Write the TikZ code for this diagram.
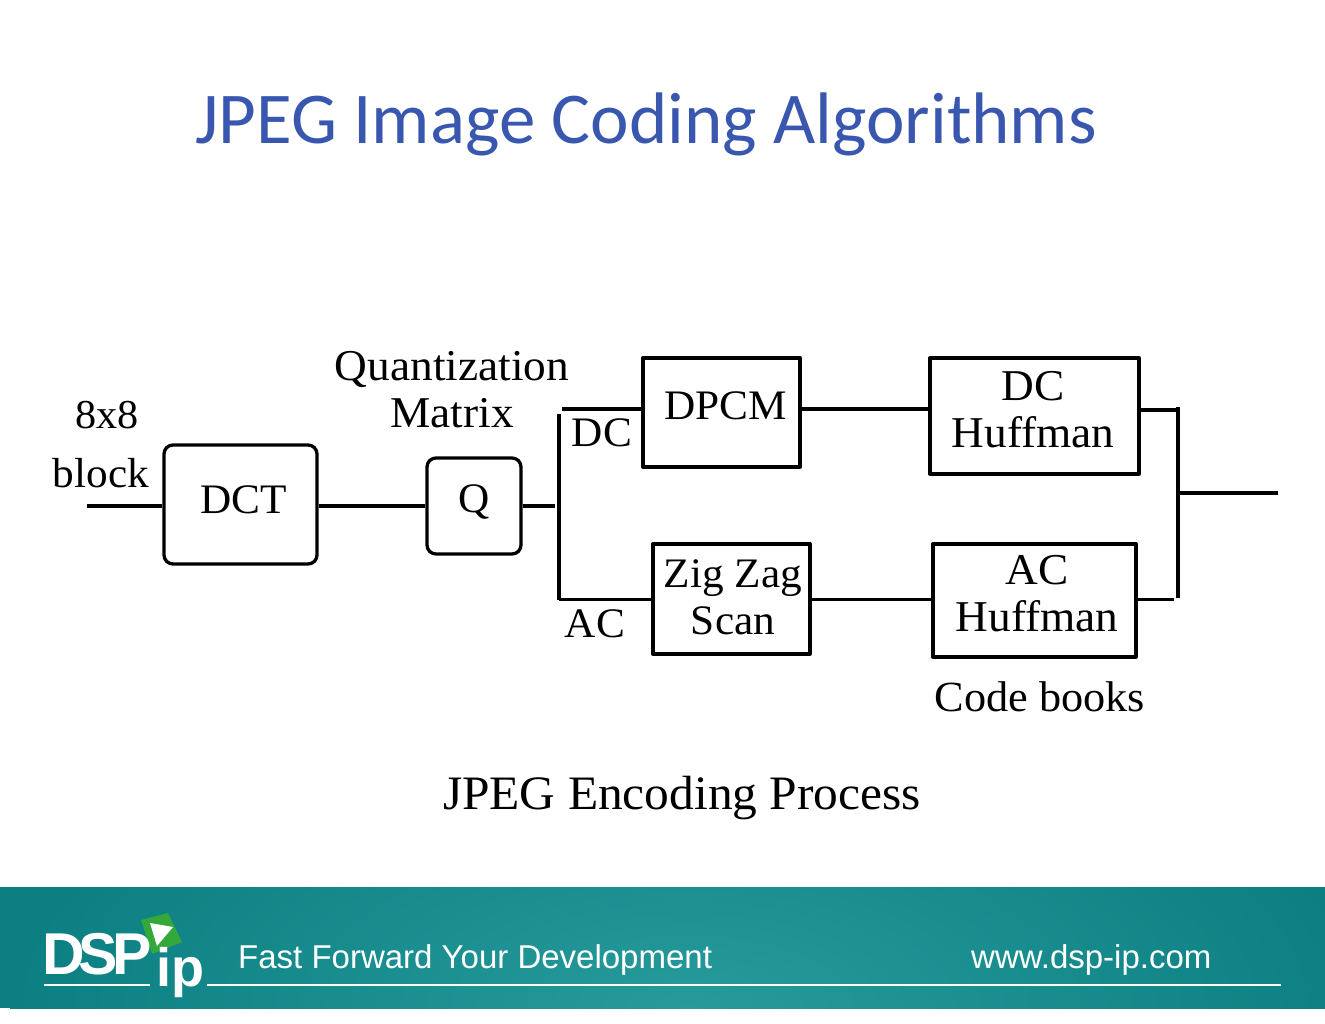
\documentclass[tikz,border=0pt]{standalone}
\usepackage{fontspec}
\setmainfont[FakeStretch=1.03]{Liberation Serif}
\newfontfamily\titlefont{Carlito}
\newfontfamily\footfont{Liberation Sans}
\definecolor{titleblue}{HTML}{3A57B0}
\definecolor{bandedge}{HTML}{0B7F81}
\definecolor{bandmid}{HTML}{279B9C}
\definecolor{logogreen}{HTML}{35A83C}
\tikzset{
	wire/.style={line width=3.3pt, line cap=butt},
	blockbox/.style={draw, line width=3.3pt, minimum width=#1, inner sep=0pt},
	blockbox/.default=100pt,
	blocktext/.style={font=\fontsize{44}{47}\selectfont, align=center, inner sep=0pt},
	capstext/.style={blocktext, font=\fontsize{42}{47}\selectfont},
	foottext/.style={font=\footfont\fontsize{33}{40}\selectfont, text=white, inner sep=0pt}
}
\begin{document}
\begin{tikzpicture}[x=1pt, y=-1pt, line join=round]
	\useasboundingbox (0,0) rectangle (1325,1024);
	\node[font=\titlefont\fontsize{73}{80}\selectfont, text=titleblue, inner sep=0pt] (title) at (646,124) {JPEG Image Coding Algorithms};
	% blocks
	\node[blockbox=153pt, minimum height=119pt, rounded corners=9pt] (dct) at (240.5,504.5) {};
	\node[blockbox=94pt, minimum height=96pt, rounded corners=9pt] (q) at (474,506) {};
	\node[blockbox=157pt, minimum height=109pt] (dpcm) at (721.5,412.5) {};
	\node[blockbox=209pt, minimum height=116pt] (dchuff) at (1034.5,416) {};
	\node[blockbox=157pt, minimum height=110pt] (zigzag) at (731.5,599) {};
	\node[blockbox=203pt, minimum height=113pt] (achuff) at (1034.5,600.5) {};
	\node[capstext] (dctlabel) at (244,500) {DCT};
	\node[capstext] (qlabel) at (474,502) {Q};
	\node[capstext] (dpcmlabel) at (726,406) {DPCM};
	\node[blocktext] (dchufflabel) at (1033,410) {DC\\Huffman};
	\node[capstext] (zigzaglabel) at (733,597) {Zig Zag\\Scan};
	\node[blocktext] (achufflabel) at (1037,594) {AC\\Huffman};
	% free labels
	\node[blocktext, font=\fontsize{41}{47}\selectfont] (inlabel) at (107,415) {8x8};
	\node[capstext] (blocklabel) at (101,473) {block};
	\node[blocktext] (qmlabel) at (452,390) {Quantization\\Matrix};
	\node[capstext] (dclabel) at (602,433) {DC};
	\node[capstext] (aclabel) at (595,624) {AC};
	\node[blocktext, font=\fontsize{43}{47}\selectfont] (cblabel) at (1040,697) {Code books};
	\node[blocktext, font=\fontsize{48}{50}\selectfont] (caption) at (682,798) {JPEG Encoding Process};
	% wires
	\coordinate (input) at (87,506);
	\coordinate (split) at (555,506);
	\coordinate (splittop) at (559,414);
	\coordinate (splitbot) at (559,599.5);
	\coordinate (dcstart) at (562,409);
	\coordinate (mergetop) at (1178,407);
	\coordinate (mergebot) at (1178,598);
	\coordinate (mergeout) at (1178,493);
	\coordinate (output) at (1278,493);
	\draw[wire] (input) -- (input -| dct.west);
	\draw[wire] (dct.east |- input) -- (q.west |- input);
	\draw[wire] (q.east |- input) -- (split);
	\draw[wire] (splittop) -- (splitbot);
	\draw[wire] (dcstart) -- (dcstart -| dpcm.west);
	\draw[wire] (splitbot) -- (splitbot -| zigzag.west);
	\draw[wire] (dpcm.east |- dcstart) -- (dchuff.west |- dcstart);
	\draw[wire] (zigzag.east |- splitbot) -- (achuff.west |- splitbot);
	\draw[wire] (dchuff.east |- mergetop) ++(0,3) -- (1178,410);
	\draw[wire] (mergetop) -- (mergebot);
	\draw[wire] (achuff.east |- splitbot) -- (1174,599.5);
	\draw[wire] (mergeout) -- (output);
	% footer band
	\begin{scope}
		\clip (0,887) rectangle (1325,1008);
		\fill[bandedge] (0,887) rectangle (1325,1008);
		\shade[inner color=bandmid, outer color=bandedge] (690,1008) ellipse (680 and 300);
	\end{scope}
	\fill[logogreen] (141,920) -- (168,913) -- (182,942) -- (152,954) -- cycle;
	\fill[white] (150,923) -- (173,927) -- (157,946) -- cycle;
	\node[font=\footfont\bfseries\fontsize{59}{60}\selectfont, text=white, inner sep=0pt, anchor=base west] (dsp) at (42,974) {D\kern-6pt S\kern-6pt P};
	\node[font=\footfont\bfseries\fontsize{54}{60}\selectfont, text=white, inner sep=0pt, anchor=base west] (ip) at (156,986) {ip};
	\node[foottext, anchor=base west] (slogan) at (238,968) {Fast Forward Your Development};
	\node[foottext, anchor=base west] (web) at (971,968) {www.dsp-ip.com};
	\coordinate (ruleA) at (44,985);
	\coordinate (ruleB) at (150,985);
	\coordinate (ruleC) at (207,985);
	\coordinate (ruleD) at (1281,985);
	\draw[white, line width=1.8pt] (ruleA) -- (ruleB);
	\draw[white, line width=1.8pt] (ruleC) -- (ruleD);
\end{tikzpicture}
\end{document}
